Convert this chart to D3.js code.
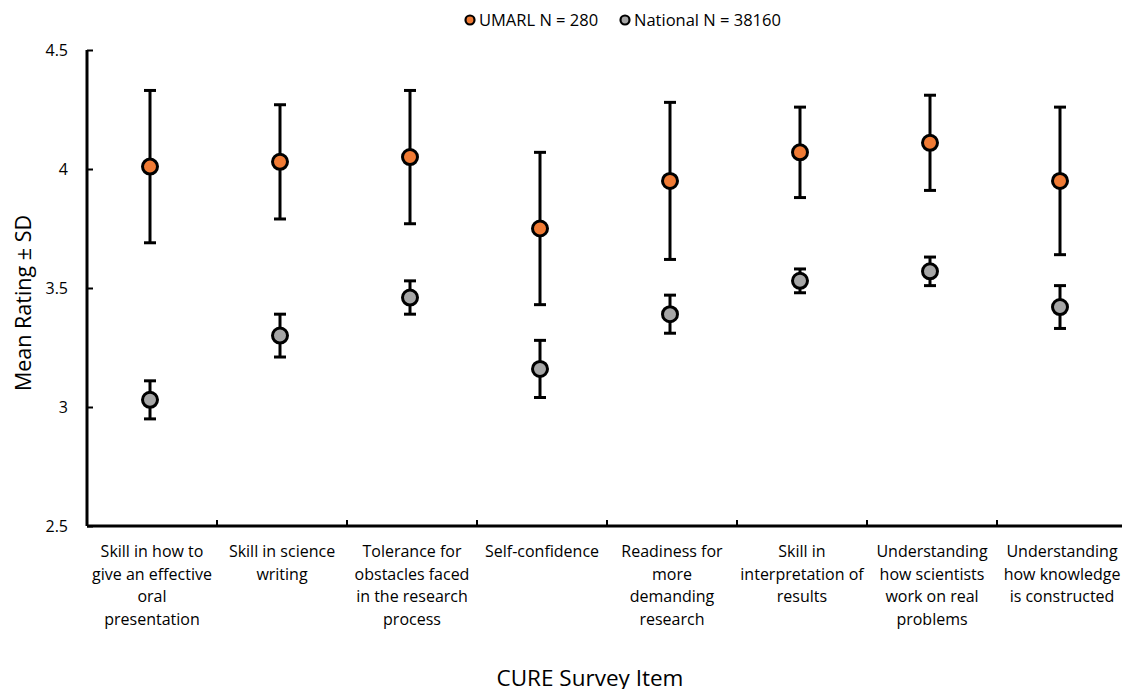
<!DOCTYPE html>
<html>
<head>
<meta charset="utf-8">
<script src="https://cdn.jsdelivr.net/npm/d3@7"></script>
<style>
  body { margin: 0; background: #fff; }
  text { font-family: "Open Sans", "Liberation Sans", sans-serif; fill: #000; }
</style>
</head>
<body>
<svg class="svg" width="1122" height="689"></svg>
<script>
let categories = [
    ['Skill in how to', 'give an effective', 'oral', 'presentation'],
    ['Skill in science', 'writing'],
    ['Tolerance for', 'obstacles faced', 'in the research', 'process'],
    ['Self-confidence'],
    ['Readiness for', 'more', 'demanding', 'research'],
    ['Skill in', 'interpretation of', 'results'],
    ['Understanding', 'how scientists', 'work on real', 'problems'],
    ['Understanding', 'how knowledge', 'is constructed']
];
let umarlMean = [4.01, 4.03, 4.05, 3.75, 3.95, 4.07, 4.11, 3.95];
let umarlSD = [0.32, 0.24, 0.28, 0.32, 0.33, 0.19, 0.20, 0.31];
let nationalMean = [3.03, 3.30, 3.46, 3.16, 3.39, 3.53, 3.57, 3.42];
let nationalSD = [0.08, 0.09, 0.07, 0.12, 0.08, 0.05, 0.06, 0.09];
let yTicks = [2.5, 3, 3.5, 4, 4.5];
let seriesNames = ['UMARL N = 280', 'National N = 38160'];
let seriesColors = ['#F07B35', '#A6A6A6'];

let plotLeft = 87, plotRight = 1127, plotTop = 50, plotBottom = 526;
let svg = d3.select('.svg');

let x = d3.scaleBand().domain(d3.range(categories.length)).range([plotLeft, plotRight]);
let y = d3.scaleLinear().domain([2.5, 4.5]).range([plotBottom, plotTop]);

// y axis
let yAxis = svg.append('g')
    .attr('transform', 'translate(' + plotLeft + ',0)')
    .call(d3.axisLeft(y).tickValues(yTicks).tickSize(-6).tickPadding(19).tickFormat(d3.format('')));
yAxis.select('.domain').attr('stroke', '#000').attr('stroke-width', 3).attr('d', 'M0,' + plotTop + 'V' + plotBottom);
yAxis.selectAll('.tick line').attr('stroke', '#000').attr('stroke-width', 2);
yAxis.selectAll('.tick text').style('font-size', '16px').attr('fill', '#000');

// x axis with boundary ticks
svg.append('line')
    .attr('x1', plotLeft).attr('x2', plotRight)
    .attr('y1', plotBottom).attr('y2', plotBottom)
    .attr('stroke', '#000').attr('stroke-width', 3);
svg.selectAll('.xtick').data(d3.range(1, categories.length)).enter().append('line')
    .attr('class', 'xtick')
    .attr('x1', d => x(d)).attr('x2', d => x(d))
    .attr('y1', plotBottom).attr('y2', plotBottom - 6)
    .attr('stroke', '#000').attr('stroke-width', 2);

let labels = svg.selectAll('.xlab').data(categories).enter().append('text')
    .attr('class', 'xlab')
    .attr('text-anchor', 'middle')
    .style('font-size', '16px');
labels.each(function (d, i) {
    let t = d3.select(this);
    d.forEach(function (line, j) {
        t.append('tspan')
            .attr('x', x(i) + x.bandwidth() / 2)
            .attr('y', 557 + j * 22.7)
            .text(line);
    });
});

// axis titles
svg.append('text')
    .attr('transform', 'translate(31,303) rotate(-90)')
    .attr('text-anchor', 'middle')
    .style('font-size', '21.5px')
    .text('Mean Rating \u00b1 SD');
svg.append('text')
    .attr('x', 590).attr('y', 686)
    .attr('text-anchor', 'middle')
    .style('font-size', '22.5px')
    .text('CURE Survey Item');

// error bars + markers
function drawSeries(means, sds, color) {
    let g = svg.append('g');
    means.forEach(function (m, i) {
        let cx = x(i) + x.bandwidth() / 2 - 2;
        g.append('line')
            .attr('x1', cx).attr('x2', cx)
            .attr('y1', y(m + sds[i])).attr('y2', y(m - sds[i]))
            .attr('stroke', '#000').attr('stroke-width', 3);
        [m + sds[i], m - sds[i]].forEach(function (v) {
            g.append('line')
                .attr('x1', cx - 6).attr('x2', cx + 6)
                .attr('y1', y(v)).attr('y2', y(v))
                .attr('stroke', '#000').attr('stroke-width', 3);
        });
        g.append('circle')
            .attr('cx', cx).attr('cy', y(m)).attr('r', 7.5)
            .attr('fill', color).attr('stroke', '#000').attr('stroke-width', 3);
    });
}
drawSeries(umarlMean, umarlSD, seriesColors[0]);
drawSeries(nationalMean, nationalSD, seriesColors[1]);

// legend
let legendX = [470, 625];
seriesNames.forEach(function (name, i) {
    svg.append('circle')
        .attr('cx', legendX[i]).attr('cy', 20).attr('r', 4.5)
        .attr('fill', seriesColors[i]).attr('stroke', '#000').attr('stroke-width', 2.2);
    svg.append('text')
        .attr('x', legendX[i] + 9).attr('y', 26)
        .style('font-size', '16.5px')
        .text(name);
});
</script>
</body>
</html>
